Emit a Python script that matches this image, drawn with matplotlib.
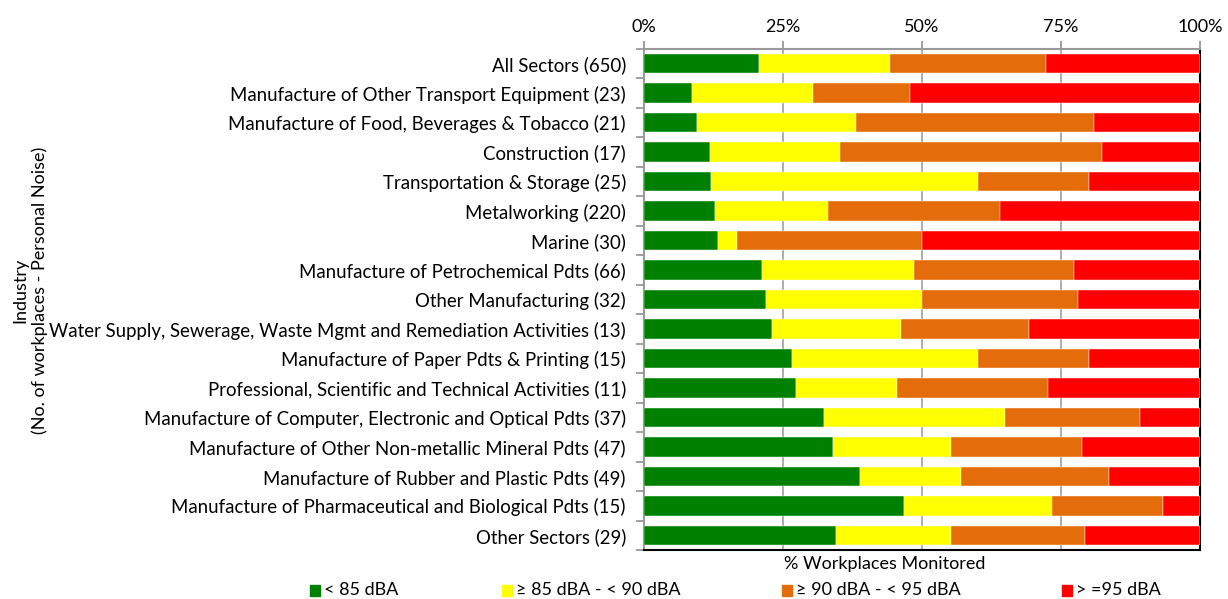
import matplotlib
matplotlib.use("Agg")
import matplotlib.pyplot as plt
from matplotlib.patches import Rectangle
import numpy as np

plt.rcParams['font.family'] = ['Lato', 'DejaVu Sans']

industries = [
    "All Sectors (650)",
    "Manufacture of Other Transport Equipment (23)",
    "Manufacture of Food, Beverages & Tobacco (21)",
    "Construction (17)",
    "Transportation & Storage (25)",
    "Metalworking (220)",
    "Marine (30)",
    "Manufacture of Petrochemical Pdts (66)",
    "Other Manufacturing (32)",
    "Water Supply, Sewerage, Waste Mgmt and Remediation Activities (13)",
    "Manufacture of Paper Pdts & Printing (15)",
    "Professional, Scientific and Technical Activities (11)",
    "Manufacture of Computer, Electronic and Optical Pdts (37)",
    "Manufacture of Other Non-metallic Mineral Pdts (47)",
    "Manufacture of Rubber and Plastic Pdts (49)",
    "Manufacture of Pharmaceutical and Biological Pdts (15)",
    "Other Sectors (29)",
]

lt85 = [20.7, 8.7, 9.5, 11.8, 12.0, 12.8, 13.3, 21.2, 21.9, 23.1, 26.7, 27.3, 32.4, 34.0, 38.8, 46.7, 34.5]
b85_90 = [23.5, 21.7, 28.6, 23.5, 48.0, 20.3, 3.4, 27.3, 28.1, 23.1, 33.3, 18.2, 32.5, 21.3, 18.3, 26.6, 20.7]
b90_95 = [28.1, 17.4, 42.9, 47.1, 20.0, 30.9, 33.3, 28.8, 28.1, 23.0, 20.0, 27.2, 24.3, 23.4, 26.6, 20.0, 24.1]
ge95 = [27.7, 52.2, 19.0, 17.6, 20.0, 36.0, 50.0, 22.7, 21.9, 30.8, 20.0, 27.3, 10.8, 21.3, 16.3, 6.7, 20.7]

series_names = ["< 85 dBA", "\u2265 85 dBA - < 90 dBA", "\u2265 90 dBA - < 95 dBA", "> =95 dBA"]
colors = ["#008000", "#FFFF00", "#E46C0A", "#FF0000"]
series = [lt85, b85_90, b90_95, ge95]

FS = 13

fig = plt.figure(figsize=(12.28, 5.99), dpi=100)
W, H = 1228, 599
ax = fig.add_axes([644 / W, 1 - 550 / H, (1200 - 644) / W, (550 - 49) / H])

y = np.arange(len(industries))
left = np.zeros(len(industries))
for vals, c, name in zip(series, colors, series_names):
    v = np.array(vals)
    ax.barh(y, v, left=left, height=0.66, color=c, label=name, zorder=3,
            edgecolor='white', linewidth=0.3)
    left += v

ax.set_xlim(0, 100)
ax.set_ylim(len(industries) - 0.5, -0.5)
ax.xaxis.tick_top()
ax.set_xticks([0, 25, 50, 75, 100])
ax.set_xticklabels(["0%", "25%", "50%", "75%", "100%"], fontsize=FS)
ax.tick_params(axis='x', which='major', length=6, color='#999999', width=1.3, pad=4)
ax.grid(axis='x', color='#A6A6A6', linewidth=1.3, zorder=0)

ax.set_yticks(y)
ax.set_yticklabels(industries, fontsize=13.4)
ax.tick_params(axis='y', which='major', length=0, pad=13)
ax.set_yticks(np.arange(-0.5, len(industries) + 0.5, 1), minor=True)
ax.tick_params(axis='y', which='minor', length=6, color='#999999', width=1.3)

for s in ['top', 'left']:
    ax.spines[s].set_color('#999999')
    ax.spines[s].set_linewidth(1.5)
for s in ['bottom', 'right']:
    ax.spines[s].set_color('black')
    ax.spines[s].set_linewidth(1.5)

fig.text(885 / W, 1 - 564 / H, "% Workplaces Monitored", fontsize=FS, ha='center', va='center')
fig.text(30 / W, 1 - 290 / H, "Industry\n(No. of workplaces - Personal Noise)", fontsize=FS,
         ha='center', va='center', rotation=90, multialignment='center', linespacing=1.2)

leg_x = [310, 502, 782, 1062]
for hx, name, c in zip(leg_x, series_names, colors):
    fig.add_artist(Rectangle((hx / W, 1 - 596 / H), 10 / W, 11 / H, transform=fig.transFigure,
                             color=c))
    fig.text((hx + 14) / W, 1 - 590 / H, name, fontsize=FS, ha='left', va='center')

fig.savefig("out.png", dpi=100)
